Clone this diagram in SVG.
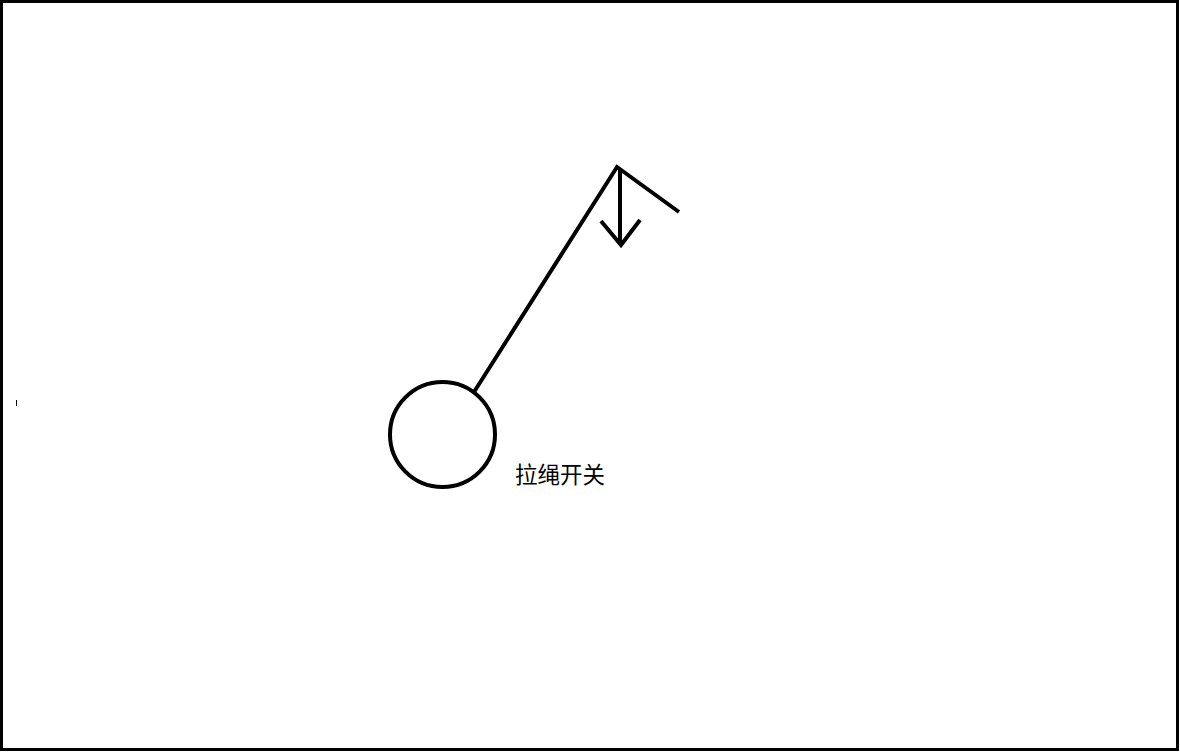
<svg xmlns="http://www.w3.org/2000/svg" width="1180" height="752" viewBox="0 0 1180 752">
<style>
.s{fill:none;stroke:#000;stroke-width:4;stroke-linecap:butt;stroke-linejoin:miter}
.t{font-family:"Noto Sans CJK SC","Liberation Sans",sans-serif;font-size:22.5px;fill:#000}
</style>
<rect x="0" y="0" width="1180" height="752" fill="#fff"/>
<rect x="1.5" y="1.5" width="1176" height="748" fill="none" stroke="#000" stroke-width="3"/>
<line x1="16.5" y1="400" x2="16.5" y2="406" stroke="#000" stroke-width="1"/>
<g id="switch">
<circle class="s" cx="442.5" cy="434.5" r="52.5"/>
<text class="t" x="515" y="483">拉绳开关</text>
</g>
<g id="connectors">
<polyline class="s" points="474,392 617,167 679,212"/>
<line class="s" x1="620" y1="170" x2="620" y2="244"/>
<polyline class="s" points="601,221 621,245 640,220"/>
</g>
</svg>
